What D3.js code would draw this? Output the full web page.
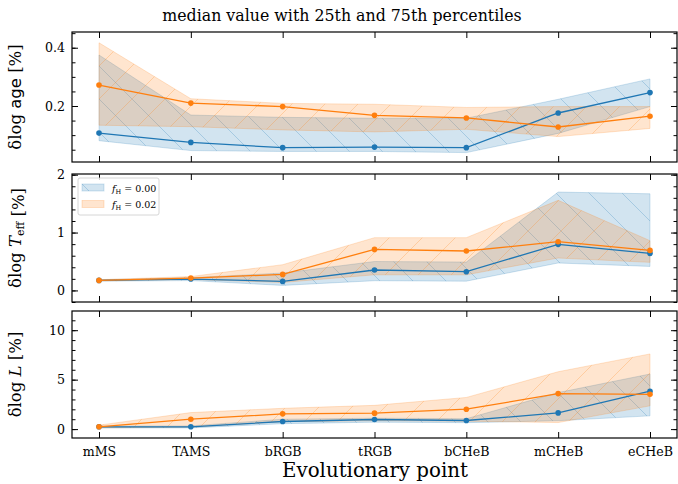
<!DOCTYPE html>
<html>
<head>
<meta charset="utf-8">
<script src="https://cdn.jsdelivr.net/npm/d3@7"></script>
<style>
  body { margin: 0; background: #fff; }
  svg text { font-family: "DejaVu Serif", serif; fill: #000; }
</style>
</head>
<body>
<svg id="chart" width="678" height="484"></svg>
<script>
// evolutionary points
const categories = ["mMS", "TAMS", "bRGB", "tRGB", "bCHeB", "mCHeB", "eCHeB"];

// delta log age [%]  (0 = f_H 0.00, 2 = f_H 0.02)
const ageMed0 = [0.107, 0.075, 0.057, 0.059, 0.057, 0.176, 0.246];
const ageLo0  = [0.081, 0.047, 0.044, 0.044, 0.040, 0.106, 0.198];
const ageHi0  = [0.375, 0.169, 0.161, 0.158, 0.158, 0.223, 0.293];
const ageMed2 = [0.272, 0.210, 0.198, 0.168, 0.159, 0.128, 0.165];
const ageLo2  = [0.134, 0.129, 0.118, 0.111, 0.120, 0.095, 0.123];
const ageHi2  = [0.417, 0.225, 0.209, 0.206, 0.195, 0.198, 0.198];

// delta log Teff [%]
const teffMed0 = [0.173, 0.197, 0.156, 0.353, 0.324, 0.796, 0.640];
const teffLo0  = [0.160, 0.170, 0.087, 0.168, 0.160, 0.474, 0.415];
const teffHi0  = [0.185, 0.220, 0.300, 0.500, 0.490, 1.700, 1.670];
const teffMed2 = [0.173, 0.214, 0.277, 0.709, 0.681, 0.842, 0.692];
const teffLo2  = [0.165, 0.190, 0.138, 0.270, 0.270, 0.560, 0.485];
const teffHi2  = [0.185, 0.240, 0.445, 0.912, 0.912, 1.557, 0.860];

// delta log L [%]
const lumMed0 = [0.23, 0.23, 0.77, 0.97, 0.87, 1.64, 3.83];
const lumLo0  = [0.12, 0.12, 0.55, 0.70, 0.65, 0.85, 1.34];
const lumHi0  = [0.30, 0.32, 1.00, 1.10, 1.05, 3.69, 5.57];
const lumMed2 = [0.23, 1.00, 1.54, 1.61, 2.01, 3.59, 3.52];
const lumLo2  = [0.12, 0.20, 0.75, 0.85, 0.80, 0.66, 2.35];
const lumHi2  = [0.40, 1.67, 2.10, 2.40, 3.20, 5.80, 7.60];

const ageTicks = [0.2, 0.4];
const teffTicks = [0, 1, 2];
const lumTicks = [0, 5, 10];

const blue = "#1f77b4", orange = "#ff7f0e";

const svg = d3.select("#chart");
const left = 72, right = 677;

const x = d3.scalePoint().domain(categories).range([99, 650]);

// hatch patterns
const defs = svg.append("defs");
function hatch(id, color, dir) {
  const p = defs.append("pattern").attr("id", id)
    .attr("patternUnits", "userSpaceOnUse").attr("width", 33).attr("height", 33);
  const segs = dir === "back"
    ? [[-1, -1, 34, 34], [-34, -1, 1, 34], [32, -1, 67, 34]]
    : [[-1, 34, 34, -1], [-34, 34, 1, -1], [32, 34, 67, -1]];
  segs.forEach(s => p.append("line")
    .attr("x1", s[0]).attr("y1", s[1]).attr("x2", s[2]).attr("y2", s[3])
    .attr("stroke", color).attr("stroke-opacity", 0.25).attr("stroke-width", 1));
}
hatch("hb", blue, "back");
hatch("ho", orange, "fwd");

const panels = [
  { top: 32, bottom: 162, domain: [0.0078, 0.454], ticks: ageTicks, minor: d3.range(0.05, 0.451, 0.05), fmt: d3.format(".1f"),
    s0: [ageMed0, ageLo0, ageHi0], s2: [ageMed2, ageLo2, ageHi2], label: "age" },
  { top: 174, bottom: 302, domain: [-0.2, 2.012], ticks: teffTicks, minor: d3.range(-0.2, 2.01, 0.2), fmt: d3.format("d"),
    s0: [teffMed0, teffLo0, teffHi0], s2: [teffMed2, teffLo2, teffHi2], label: "teff" },
  { top: 311, bottom: 438, domain: [-0.9, 11.94], ticks: lumTicks, minor: d3.range(0, 12, 1), fmt: d3.format("d"),
    s0: [lumMed0, lumLo0, lumHi0], s2: [lumMed2, lumLo2, lumHi2], label: "lum" }
];

panels.forEach((p, i) => {
  const y = d3.scaleLinear().domain(p.domain).range([p.bottom, p.top]);
  const g = svg.append("g");
  const clipId = "clip" + i;
  defs.append("clipPath").attr("id", clipId).append("rect")
    .attr("x", left).attr("y", p.top).attr("width", right - left).attr("height", p.bottom - p.top);
  const plot = g.append("g").attr("clip-path", `url(#${clipId})`);

  const area = d3.area().x((d, j) => x(categories[j])).y0(d => y(d[0])).y1(d => y(d[1]));
  const line = d3.line().x((d, j) => x(categories[j])).y(d => y(d));

  [[p.s0, blue, "hb"], [p.s2, orange, "ho"]].forEach(([s, c, h]) => {
    const band = s[1].map((lo, j) => [lo, s[2][j]]);
    plot.append("path").attr("d", area(band)).attr("fill", c).attr("fill-opacity", 0.2)
      .attr("stroke", c).attr("stroke-opacity", 0.2).attr("stroke-width", 1);
    plot.append("path").attr("d", area(band)).attr("fill", `url(#${h})`);
  });
  [[p.s0, blue], [p.s2, orange]].forEach(([s, c]) => {
    plot.append("path").attr("d", line(s[0])).attr("fill", "none").attr("stroke", c).attr("stroke-width", 1.3);
    plot.selectAll(null).data(s[0]).join("circle")
      .attr("cx", (d, j) => x(categories[j])).attr("cy", d => y(d)).attr("r", 2.8).attr("fill", c);
  });

  // axes, ticks pointing in
  const ax = (gen, tr) => g.append("g").attr("transform", tr).call(gen).call(a => a.select(".domain").remove());
  ax(d3.axisLeft(y).tickValues(p.ticks).tickFormat(p.fmt).tickSize(-6).tickPadding(7), `translate(${left},0)`);
  ax(d3.axisLeft(y).tickValues(p.minor).tickFormat("").tickSize(-3.5), `translate(${left},0)`);
  ax(d3.axisRight(y).tickValues(p.ticks).tickFormat("").tickSize(-6), `translate(${right},0)`);
  ax(d3.axisRight(y).tickValues(p.minor).tickFormat("").tickSize(-3.5), `translate(${right},0)`);
  ax(d3.axisTop(x).tickFormat("").tickSize(-6), `translate(0,${p.top})`);
  ax(d3.axisBottom(x).tickFormat(i === 2 ? d => d : "").tickSize(-6).tickPadding(9), `translate(0,${p.bottom})`);

  g.selectAll(".tick line").attr("stroke", "#000").attr("stroke-width", 1);
  g.selectAll(".tick text").attr("font-size", 12.6).attr("font-family", "DejaVu Serif").attr("fill", "#000");

  g.append("rect").attr("x", left).attr("y", p.top).attr("width", right - left).attr("height", p.bottom - p.top)
    .attr("fill", "none").attr("stroke", "#000").attr("stroke-width", 1.2);

  // y label
  const cy = (p.top + p.bottom) / 2;
  const t = svg.append("text").attr("transform", `translate(21,${cy}) rotate(-90)`)
    .attr("text-anchor", "middle").attr("font-size", 16.5);
  t.append("tspan").text("δlog ");
  if (p.label === "age") {
    t.append("tspan").attr("font-family", "DejaVu Sans").text("age");
  } else if (p.label === "teff") {
    t.append("tspan").attr("font-style", "italic").text("T");
    t.append("tspan").attr("font-size", 11).attr("dy", 3).text("eff");
    t.append("tspan").attr("dy", -3).text("");
  } else {
    t.append("tspan").attr("font-style", "italic").text("L");
  }
  t.append("tspan").text(" [%]");
});

// legend in middle panel
const lg = svg.append("g").attr("transform", "translate(78,178)");
lg.append("rect").attr("width", 81).attr("height", 37).attr("rx", 2)
  .attr("fill", "#fff").attr("fill-opacity", 0.8).attr("stroke", "#ccc").attr("stroke-width", 0.8);
[["0.00", blue, "hb"], ["0.02", orange, "ho"]].forEach(([v, c, h], j) => {
  const row = lg.append("g").attr("transform", `translate(4,${6 + j * 16.5})`);
  row.append("rect").attr("width", 22).attr("height", 7).attr("fill", c).attr("fill-opacity", 0.2)
    .attr("stroke", c).attr("stroke-opacity", 0.2);
  row.append("rect").attr("width", 22).attr("height", 7).attr("fill", `url(#${h})`);
  const tx = row.append("text").attr("x", 30).attr("y", 7.5).attr("font-size", 9.5);
  tx.append("tspan").attr("font-style", "italic").text("f");
  tx.append("tspan").attr("font-size", 6.5).attr("dy", 2).text("H");
  tx.append("tspan").attr("dy", -2).text(" = " + v);
});

svg.append("text").attr("x", 342).attr("y", 21).attr("text-anchor", "middle").attr("font-size", 15.8)
  .text("median value with 25th and 75th percentiles");
svg.append("text").attr("x", 375).attr("y", 477).attr("text-anchor", "middle").attr("font-size", 19.8)
  .text("Evolutionary point");
</script>
</body>
</html>
